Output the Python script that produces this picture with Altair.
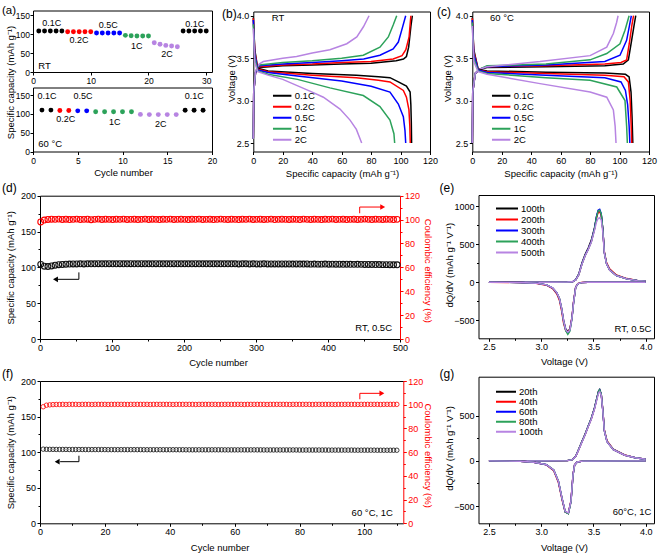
import altair as alt
import pandas as pd

W, H = 660, 556
FONT = "Liberation Sans"
PALETTE = ["#000000", "#ff0000", "#0000ff", "#2ca25a", "#b784e2"]
RATES = ["0.1C", "0.2C", "0.5C", "1C", "2C"]

# ---------------- (a) rate capability ----------------
rt_cycle = list(range(1, 31))
rt_capacity = [108, 108, 108, 108, 108, 106, 106, 106, 106, 106,
               102.7, 102.7, 102.7, 102.7, 102.7, 96.6, 95.5, 95.0, 95.0, 95.0,
               77, 73, 70, 68.5, 66.6, 108, 108, 108, 108, 108]
rt_rate = ["0.1C"] * 5 + ["0.2C"] * 5 + ["0.5C"] * 5 + ["1C"] * 5 + ["2C"] * 5 + ["0.1C"] * 5
rate_tag = ["0.1C", "0.2C", "0.5C", "1C", "2C", "0.1C"]
rt_tag_x = [3.24, 7.97, 13.04, 17.96, 23.21, 28.0]
rt_tag_y = [129.1, 85.1, 124.6, 69.8, 46.1, 127.0]

ht_cycle = list(range(1, 20))
ht_capacity = [110, 110, 109, 109, 108, 108, 105.5, 105.5, 105.5, 105.5, 105.5,
               98.5, 98, 98, 98, 98, 109.5, 109.5, 109.5]
ht_rate = ["0.1C"] * 2 + ["0.2C"] * 2 + ["0.5C"] * 2 + ["1C"] * 5 + ["2C"] * 5 + ["0.1C"] * 3
ht_tag_x = [1.56, 3.66, 5.59, 9.13, 14.28, 18.01]
ht_tag_y = [147.4, 86.9, 147.4, 79.2, 73.6, 146.6]

# ---------------- (b) charge/discharge profiles, RT ----------------
b_chg_x = {
    "0.1C": [0, 0.3, 1.5, 4, 20, 40, 60, 80, 97, 102, 104, 105.5, 107, 108],
    "0.2C": [0, 0.3, 1.5, 4, 20, 40, 60, 80, 95, 101, 103.6, 105.8, 107],
    "0.5C": [0, 0.3, 1.5, 4, 20, 40, 60, 75, 86, 95, 98.5, 100.8, 103.5],
    "1C": [0, 0.3, 1.5, 4, 20, 40, 60, 74.7, 86, 91.7, 95, 97.4],
    "2C": [0, 0.3, 1.5, 4, 6.8, 20, 29.4, 40, 52, 63.5, 70.3, 74.8, 78.6],
}
b_chg_v = {
    "0.1C": [2.55, 3.1, 3.33, 3.39, 3.41, 3.42, 3.43, 3.44, 3.47, 3.49, 3.52, 3.63, 3.87, 4.0],
    "0.2C": [2.55, 3.1, 3.33, 3.40, 3.42, 3.43, 3.45, 3.46, 3.49, 3.53, 3.6, 3.75, 4.0],
    "0.5C": [2.55, 3.1, 3.33, 3.41, 3.43, 3.45, 3.47, 3.49, 3.535, 3.61, 3.69, 3.83, 4.0],
    "1C": [2.55, 3.1, 3.34, 3.42, 3.45, 3.47, 3.5, 3.535, 3.63, 3.75, 3.89, 4.0],
    "2C": [2.55, 3.1, 3.35, 3.43, 3.46, 3.5, 3.52, 3.56, 3.6, 3.67, 3.75, 3.87, 4.0],
}
b_dis_x = {
    "0.1C": [0, 1, 3, 10, 40, 70, 85, 92.8, 98.5, 104, 106.5, 107.0, 107.3, 107.5],
    "0.2C": [0, 1, 3, 10, 40, 70, 85, 92.8, 101.9, 104, 105.7, 106.3, 106.6],
    "0.5C": [0, 1, 3, 10, 30, 60, 80, 92.8, 98.5, 101.9, 103, 103.5],
    "1C": [0, 1, 3, 10, 30, 52, 74.7, 86, 92.8, 95.5, 96],
    "2C": [0, 1, 3, 10, 20, 29.4, 40, 47.6, 58.9, 65.7, 70, 73.6],
}
b_dis_v = {
    "0.1C": [3.98, 3.6, 3.38, 3.35, 3.32, 3.30, 3.28, 3.27, 3.22, 3.17, 3.1, 2.95, 2.75, 2.5],
    "0.2C": [3.97, 3.58, 3.37, 3.34, 3.30, 3.27, 3.24, 3.22, 3.12, 3.04, 2.89, 2.7, 2.5],
    "0.5C": [3.95, 3.55, 3.36, 3.33, 3.29, 3.23, 3.17, 3.1, 2.96, 2.81, 2.65, 2.5],
    "1C": [3.9, 3.5, 3.35, 3.31, 3.25, 3.15, 3.06, 2.93, 2.77, 2.61, 2.5],
    "2C": [3.85, 3.45, 3.34, 3.3, 3.25, 3.18, 3.1, 3.04, 2.9, 2.77, 2.66, 2.5],
}

# ---------------- (c) charge/discharge profiles, 60 °C ----------------
c_chg_x = {
    "0.1C": [0, 0.3, 2, 5, 10, 50, 90, 102.5, 106, 108.2, 110, 111],
    "0.2C": [0, 0.3, 2, 5, 10, 50, 90, 101, 104.8, 106.6, 108.3, 109.5],
    "0.5C": [0, 0.3, 2, 5, 10, 50, 90, 100.3, 104.8, 106.7, 108],
    "1C": [0, 0.3, 2, 5, 10, 50, 80, 91.3, 100.3, 103.7, 106.5],
    "2C": [0, 0.3, 2, 5, 10, 46, 80, 91.3, 95.8, 98, 99],
}
c_chg_v = {
    "0.1C": [2.5, 3.1, 3.32, 3.37, 3.39, 3.40, 3.41, 3.43, 3.48, 3.71, 3.9, 4.0],
    "0.2C": [2.5, 3.1, 3.32, 3.37, 3.40, 3.41, 3.43, 3.45, 3.48, 3.67, 3.88, 4.0],
    "0.5C": [2.5, 3.1, 3.32, 3.37, 3.40, 3.42, 3.46, 3.535, 3.71, 3.88, 4.0],
    "1C": [2.5, 3.1, 3.32, 3.37, 3.41, 3.43, 3.48, 3.555, 3.67, 3.83, 4.0],
    "2C": [2.5, 3.1, 3.32, 3.37, 3.40, 3.46, 3.53, 3.63, 3.79, 3.92, 4.0],
}
c_dis_x = {
    "0.1C": [0, 1, 4, 10, 50, 90, 104, 106.5, 107.8, 108.5, 109],
    "0.2C": [0, 1, 4, 10, 50, 90, 103, 106, 107.2, 107.9, 108.3],
    "0.5C": [0, 1, 4, 10, 50, 90, 101, 104, 105.5, 106.5, 107],
    "1C": [0, 1, 4, 10, 50, 80, 98.1, 103.7, 104.8, 105.3],
    "2C": [0, 1, 4, 10, 46, 80, 91.3, 95.8, 97, 97.6],
}
c_dis_v = {
    "0.1C": [3.98, 3.6, 3.37, 3.35, 3.335, 3.325, 3.31, 3.28, 3.1, 2.8, 2.5],
    "0.2C": [3.97, 3.58, 3.36, 3.34, 3.32, 3.30, 3.28, 3.22, 3.0, 2.7, 2.5],
    "0.5C": [3.95, 3.55, 3.36, 3.33, 3.30, 3.27, 3.22, 3.12, 2.95, 2.7, 2.5],
    "1C": [3.92, 3.5, 3.35, 3.32, 3.27, 3.24, 3.16, 3.0, 2.7, 2.5],
    "2C": [3.88, 3.46, 3.34, 3.31, 3.2, 3.1, 3.04, 2.89, 2.7, 2.5],
}

# ---------------- (d) long cycling, RT 0.5C (every 5th cycle) ----------------
d_cycle = list(range(1, 501, 5))
d_capacity = [
    104.2, 101.6, 101.2, 102.0, 103.0, 103.7, 104.1, 104.4, 104.6, 104.7,
    104.8, 104.9, 104.8, 105.0, 104.9, 105.0, 105.1, 104.9, 105.0, 105.1,
    105.0, 104.9, 105.1, 105.0, 105.0, 105.1, 104.9, 105.0, 105.1, 105.0,
    104.9, 105.0, 105.1, 105.0, 104.9, 105.0, 105.0, 105.1, 104.9, 105.0,
    105.0, 104.9, 105.0, 105.1, 105.0, 104.9, 105.0, 105.0, 104.9, 105.0,
    104.9, 105.0, 104.9, 104.9, 105.0, 104.8, 104.9, 104.9, 104.8, 104.9,
    104.8, 104.8, 104.9, 104.7, 104.8, 104.8, 104.7, 104.8, 104.7, 104.7,
    104.6, 104.7, 104.6, 104.6, 104.7, 104.5, 104.6, 104.5, 104.5, 104.6,
    104.4, 104.5, 104.4, 104.4, 104.3, 104.4, 104.3, 104.2, 104.3, 104.2,
    104.1, 104.1, 104.0, 103.9, 103.9, 103.8, 103.8, 103.7, 103.6, 103.6]
d_efficiency = [
    98.0, 99.6, 100.1, 100.3, 100.2, 100.4, 100.1, 100.3, 100.0, 100.2,
    100.4, 100.1, 100.2, 100.3, 99.9, 100.2, 100.4, 100.1, 100.3, 100.2,
    100.0, 100.3, 100.2, 100.4, 100.1, 100.2, 100.3, 100.0, 100.2, 100.4,
    100.1, 100.3, 100.2, 100.0, 100.3, 100.2, 100.4, 100.1, 100.2, 100.3,
    100.2, 100.0, 100.3, 100.2, 100.4, 100.1, 100.2, 100.3, 100.0, 100.2,
    100.4, 100.2, 100.1, 100.3, 100.2, 100.0, 100.3, 100.2, 100.4, 100.1,
    100.2, 100.3, 100.1, 100.2, 100.4, 100.0, 100.2, 100.3, 100.2, 100.1,
    100.3, 100.2, 100.0, 100.4, 100.2, 100.1, 100.3, 100.2, 100.0, 100.3,
    100.2, 100.4, 100.1, 100.2, 100.3, 100.0, 100.2, 100.3, 100.1, 100.2,
    100.4, 100.2, 100.0, 100.3, 100.2, 100.1, 100.3, 100.2, 100.0, 100.2]

# ---------------- (f) long cycling, 60 °C 1C ----------------
f_cycle = list(range(1, 111))
f_capacity = [
    104.2, 104.0, 103.9, 103.9, 103.8, 103.8, 103.8, 103.8, 103.7, 103.7,
    103.7, 103.7, 103.7, 103.6, 103.6, 103.6, 103.6, 103.6, 103.6, 103.6,
    103.5, 103.5, 103.5, 103.5, 103.5, 103.5, 103.5, 103.5, 103.5, 103.5,
    103.5, 103.4, 103.4, 103.4, 103.4, 103.4, 103.4, 103.4, 103.4, 103.4,
    103.4, 103.4, 103.4, 103.4, 103.3, 103.3, 103.3, 103.3, 103.3, 103.3,
    103.3, 103.3, 103.3, 103.3, 103.3, 103.3, 103.2, 103.2, 103.2, 103.2,
    103.2, 103.2, 103.2, 103.2, 103.2, 103.2, 103.2, 103.2, 103.1, 103.1,
    103.1, 103.1, 103.1, 103.1, 103.1, 103.1, 103.1, 103.1, 103.1, 103.0,
    103.0, 103.0, 103.0, 103.0, 103.0, 103.0, 103.0, 103.0, 102.9, 102.9,
    102.9, 102.9, 102.9, 102.9, 102.9, 102.9, 102.8, 102.8, 102.8, 102.8,
    102.8, 102.8, 102.8, 102.7, 102.7, 102.7, 102.7, 102.7, 102.7, 102.7]
f_efficiency = [
    98.3, 99.6, 99.9, 100.1, 100.2, 100.2, 100.3, 100.2, 100.3, 100.3,
    100.3, 100.2, 100.3, 100.3, 100.3, 100.2, 100.3, 100.3, 100.3, 100.3,
    100.2, 100.3, 100.3, 100.3, 100.3, 100.3, 100.2, 100.3, 100.3, 100.3,
    100.3, 100.3, 100.3, 100.2, 100.3, 100.3, 100.3, 100.3, 100.3, 100.3,
    100.2, 100.3, 100.3, 100.3, 100.3, 100.3, 100.3, 100.2, 100.3, 100.3,
    100.3, 100.3, 100.3, 100.3, 100.2, 100.3, 100.3, 100.3, 100.3, 100.3,
    100.3, 100.3, 100.2, 100.3, 100.3, 100.3, 100.3, 100.3, 100.3, 100.2,
    100.3, 100.3, 100.3, 100.3, 100.3, 100.3, 100.2, 100.3, 100.3, 100.3,
    100.3, 100.3, 100.3, 100.2, 100.3, 100.3, 100.3, 100.3, 100.3, 100.3,
    100.2, 100.3, 100.3, 100.3, 100.3, 100.3, 100.3, 100.2, 100.3, 100.3,
    100.3, 100.3, 100.3, 100.3, 100.2, 100.3, 100.3, 100.3, 100.3, 100.3]

# ---------------- (e) dQ/dV, RT 0.5C ----------------
E_CYCLES = ["100th", "200th", "300th", "400th", "500th"]
e_chg_v = [2.5, 3.0, 3.25, 3.3, 3.33, 3.36, 3.39, 3.42, 3.45, 3.48, 3.51, 3.53,
           3.545, 3.56, 3.575, 3.59, 3.605, 3.625, 3.655, 3.72, 3.82, 3.92, 4.0]
e_chg = {
    "100th": [0, 0, 2, 6, 32, 110, 255, 365, 450, 555, 715, 865, 935, 945, 890, 690, 385, 245, 160, 86, 43, 21, 12],
    "200th": [0, 0, 2, 5, 28, 100, 240, 350, 435, 535, 700, 850, 920, 930, 885, 700, 400, 262, 178, 95, 48, 24, 14],
    "300th": [0, 0, 2, 5, 30, 102, 242, 352, 438, 538, 705, 870, 950, 962, 905, 700, 390, 250, 163, 88, 44, 22, 13],
    "400th": [0, 0, 2, 5, 29, 100, 238, 348, 432, 530, 698, 860, 940, 950, 900, 705, 392, 250, 164, 88, 44, 22, 13],
    "500th": [0, 0, 2, 5, 28, 98, 235, 345, 430, 528, 680, 795, 840, 850, 820, 660, 380, 245, 160, 86, 43, 21, 12],
}
e_dis_v = [2.5, 2.8, 2.95, 3.05, 3.11, 3.15, 3.175, 3.195, 3.215, 3.235, 3.255,
           3.275, 3.295, 3.31, 3.33, 3.35, 3.385, 3.45, 4.0]
e_dis = {
    "100th": [0, -4, -13, -35, -76, -140, -215, -340, -505, -615, -650, -615, -465, -265, -70, -20, -5, 0, 0],
    "200th": [0, -5, -15, -40, -85, -155, -240, -375, -545, -640, -665, -620, -460, -255, -65, -18, -4, 0, 0],
    "300th": [0, -4, -13, -36, -77, -142, -220, -348, -518, -632, -672, -635, -472, -268, -70, -20, -5, 0, 0],
    "400th": [0, -4, -13, -35, -76, -140, -218, -346, -520, -640, -688, -648, -480, -272, -72, -20, -5, 0, 0],
    "500th": [0, -4, -13, -35, -75, -138, -215, -340, -510, -625, -660, -630, -472, -270, -72, -20, -5, 0, 0],
}

# ---------------- (g) dQ/dV, 60 °C 1C ----------------
G_CYCLES = ["20th", "40th", "60th", "80th", "100th"]
g_chg_v = [2.5, 3.0, 3.25, 3.3, 3.33, 3.36, 3.39, 3.42, 3.45, 3.48, 3.51, 3.535,
           3.55, 3.56, 3.575, 3.59, 3.605, 3.63, 3.69, 3.8, 3.9, 4.0]
g_chg = {
    "20th": [0, 0, 3, 15, 50, 130, 215, 295, 385, 472, 585, 705, 775, 790, 735, 555, 330, 212, 124, 62, 35, 18],
    "40th": [0, 0, 3, 14, 48, 126, 210, 290, 380, 465, 578, 698, 768, 782, 738, 565, 342, 222, 130, 65, 36, 19],
    "60th": [0, 0, 3, 15, 49, 128, 212, 292, 382, 468, 582, 702, 772, 786, 736, 558, 334, 215, 126, 63, 35, 18],
    "80th": [0, 0, 3, 15, 49, 128, 212, 292, 382, 468, 580, 700, 770, 784, 740, 562, 336, 216, 126, 63, 35, 18],
    "100th": [0, 0, 3, 14, 47, 124, 206, 286, 376, 460, 570, 685, 750, 765, 725, 552, 330, 212, 124, 62, 35, 18],
}
g_dis_v = [2.5, 2.8, 2.93, 3.05, 3.12, 3.165, 3.2, 3.23, 3.26, 3.285, 3.305, 3.32, 3.345, 3.4, 4.0]
g_dis = {
    "20th": [0, -5, -15, -42, -100, -225, -415, -560, -582, -450, -155, -45, -12, -3, 0],
    "40th": [0, -5, -16, -45, -108, -240, -432, -568, -575, -440, -150, -44, -12, -3, 0],
    "60th": [0, -5, -15, -43, -102, -228, -420, -565, -580, -448, -154, -45, -12, -3, 0],
    "80th": [0, -5, -15, -42, -100, -225, -418, -566, -585, -455, -158, -46, -12, -3, 0],
    "100th": [0, -5, -15, -42, -100, -224, -414, -558, -576, -448, -155, -45, -12, -3, 0],
}

CAP_TITLE = "Specific capacity (mAh g⁻¹)"
CE_TITLE = "Coulombic efficiency (%)"
DQDV_TITLE = "dQ/dV (mAh g⁻¹ V⁻¹)"


# ---------------- helpers ----------------
def scale(domain, rng):
    return alt.Scale(domain=domain, range=rng, nice=False, zero=False)


def axis(orient, offset, **kw):
    opts = dict(orient=orient, offset=offset, grid=False, labelFlush=False, labelOverlap=False)
    opts.update(kw)
    return alt.Axis(**opts)


def frame(orient, offset):
    return alt.Axis(orient=orient, offset=offset, labels=False, ticks=False, grid=False, title=None)


def minor(orient, offset, values, color="black"):
    return alt.Axis(orient=orient, offset=offset, values=values, labels=False, domain=False, grid=False,
                    title=None, tickSize=2, tickColor=color)


def curve_frame(names, xs, ys, branch):
    rows = []
    for name in names:
        for i, (x, y) in enumerate(zip(xs[name], ys[name])):
            rows.append({"series": name, "branch": branch, "i": i, "x": x, "y": y})
    return rows


def text_layer(xs, ys, texts, xsc, ysc, size=9.5, align="left", color="black", xaxis=None, yaxis=None):
    df = pd.DataFrame({"x": xs, "y": ys, "t": texts})
    return alt.Chart(df).mark_text(fontSize=size, align=align, baseline="middle", color=color).encode(
        x=alt.X("x:Q", scale=xsc, axis=xaxis),
        y=alt.Y("y:Q", scale=ysc, axis=yaxis),
        text="t:N",
    )


def arrow_layers(segments, head, shape, xsc, ysc, color, head_yaxis=None):
    seg = pd.DataFrame(segments, columns=["x", "y", "x2", "y2"])
    rule = alt.Chart(seg).mark_rule(color=color, strokeWidth=1).encode(
        x=alt.X("x:Q", scale=xsc, axis=None), x2="x2:Q",
        y=alt.Y("y:Q", scale=ysc, axis=None), y2="y2:Q")
    tip = alt.Chart(pd.DataFrame({"x": [head[0]], "y": [head[1]]})).mark_point(
        shape=shape, filled=True, size=32, color=color, opacity=1).encode(
        x=alt.X("x:Q", scale=xsc, axis=None), y=alt.Y("y:Q", scale=ysc, axis=head_yaxis))
    return [rule, tip]


def panel(*layers):
    return alt.layer(*layers).resolve_axis(x="independent", y="independent")


# ---------------- (a) upper: RT ----------------
a1x, a1y = scale([0, 31], [33, 212]), scale([0, 162], [72, 10.5])
rate_color = alt.Color("rate:N", scale=alt.Scale(domain=RATES, range=PALETTE), legend=None)
a1_pts = alt.Chart(pd.DataFrame({"cycle": rt_cycle, "cap": rt_capacity, "rate": rt_rate})).mark_circle(
    size=24, opacity=1).encode(
    x=alt.X("cycle:Q", scale=a1x, axis=axis("bottom", 72 - H, values=[0, 10, 20, 30], title=None,
                                             labelFontSize=8.5)),
    y=alt.Y("cap:Q", scale=a1y, axis=axis("left", -33, values=[0, 50, 100, 150], title=CAP_TITLE,
                                           labelFontSize=8.5, labelPadding=0.5,
                                           titleX=-23, titleY=82, titleBaseline="middle")),
    color=rate_color)
a1_tags = text_layer(rt_tag_x, rt_tag_y, rate_tag, a1x, a1y, size=9, align="center",
                     xaxis=frame("top", -10.5), yaxis=frame("right", 212 - W))
a1_note = text_layer([0.92], [16.6], ["RT"], a1x, a1y)
a1_letter = text_layer([-5.37], [161.5], ["(a)"], a1x, a1y, size=11.5)
panel_a1 = panel(a1_pts, a1_tags, a1_note, a1_letter)

# ---------------- (a) lower: 60 °C ----------------
a2x, a2y = scale([0, 20], [33, 212]), scale([0, 170], [151.5, 87.5])
a2_pts = alt.Chart(pd.DataFrame({"cycle": ht_cycle, "cap": ht_capacity, "rate": ht_rate})).mark_circle(
    size=24, opacity=1).encode(
    x=alt.X("cycle:Q", scale=a2x, axis=axis("bottom", 151.5 - H, values=[0, 5, 10, 15, 20],
                                             labelFontSize=8.5,
                                             title="Cycle number", titleX=123, titleY=21, titleBaseline="middle")),
    y=alt.Y("cap:Q", scale=a2y, axis=axis("left", -33, values=[0, 50, 100, 150], title=None,
                                           labelFontSize=8.5, labelPadding=0.5)),
    color=rate_color)
a2_tags = text_layer(ht_tag_x, ht_tag_y, rate_tag, a2x, a2y, size=9, align="center",
                     xaxis=frame("top", -87.5), yaxis=frame("right", 212 - W))
a2_note = text_layer([0.59], [19.1], ["60 °C"], a2x, a2y)
panel_a2 = panel(a2_pts, a2_tags, a2_note)


# ---------------- (b), (c) voltage profiles ----------------
def profile_panel(chg_x, chg_v, dis_x, dis_v, left, right, y_title_x, x_title_x, legend_x, note, note_x,
                  letter, letter_x, letter_v):
    xs, ys = scale([0, 120], [left, right]), scale([2.4, 4.05], [151.5, 11.5])
    rows = curve_frame(RATES, chg_x, chg_v, "charge") + curve_frame(RATES, dis_x, dis_v, "discharge")
    lines = alt.Chart(pd.DataFrame(rows)).mark_line(strokeWidth=1.5).encode(
        x=alt.X("x:Q", scale=xs, axis=axis("bottom", 151.5 - H, values=[0, 20, 40, 60, 80, 100, 120],
                                           title=CAP_TITLE, titleX=x_title_x, titleY=21.5,
                                           titleBaseline="middle")),
        y=alt.Y("y:Q", scale=ys, axis=axis("left", -left, values=[2.5, 3.0, 3.5, 4.0], format=".1f",
                                           title="Voltage (V)", titleX=y_title_x - left, titleY=78,
                                           titleBaseline="middle")),
        color=alt.Color("series:N", scale=alt.Scale(domain=RATES, range=PALETTE),
                        legend=alt.Legend(orient="none", legendX=legend_x, legendY=90.6, title=None,
                                          symbolType="stroke", symbolSize=340, symbolStrokeWidth=2,
                                          clipHeight=10.15, rowPadding=0, padding=0, labelOffset=2,
                                          labelFontSize=9.5)),
        detail="branch:N",
        order="i:Q")
    txt = text_layer([note_x], [3.97], [note], xs, ys,
                     xaxis=frame("top", -11.5), yaxis=frame("right", right - W))
    let = text_layer([letter_x], [letter_v], [letter], xs, ys, size=12)
    return panel(lines, txt, let)


panel_b = profile_panel(b_chg_x, b_chg_v, b_dis_x, b_dis_v, 253.3, 430, 231, 342, 271.7, "RT", 12.5,
                        "(b)", -21.26, 4.026)
panel_c = profile_panel(c_chg_x, c_chg_v, c_dis_x, c_dis_v, 472.3, 649, 447, 560.5, 490.7, "60 °C", 12.0,
                        "(c)", -23.97, 4.044)


# ---------------- (d), (f) cycling stability ----------------
def cycling_panel(cycles, cap, ce, xdom, xright, ticks, minor_x, top, bottom, x_title_y, note, note_x,
                  note_y, letter, letter_x, letter_y, black_arrow, red_arrow, msize, mstroke):
    xs = scale(xdom, [40, xright])
    ys = scale([0, 200], [bottom, top])
    ys2 = scale([0, 120], [bottom, top])
    df = pd.DataFrame({"cycle": cycles, "cap": cap, "ce": ce})
    cap_pts = alt.Chart(df).mark_point(shape="circle", filled=False, size=msize, strokeWidth=mstroke,
                                       color="#111111", opacity=1).encode(
        x=alt.X("cycle:Q", scale=xs, axis=axis("bottom", bottom - H, values=ticks, title="Cycle number",
                                               titleX=(40 + xright) / 2 - 2, titleY=x_title_y,
                                               titleBaseline="middle")),
        y=alt.Y("cap:Q", scale=ys, axis=axis("left", -40, values=[0, 50, 100, 150, 200], title=CAP_TITLE,
                                             titleX=-30, titleY=(top + bottom) / 2, titleBaseline="middle")))
    ce_pts = alt.Chart(df).mark_point(shape="circle", filled=False, size=msize, strokeWidth=mstroke,
                                      color="#ff0000", opacity=1).encode(
        x=alt.X("cycle:Q", scale=xs, axis=frame("top", -top)),
        y=alt.Y("ce:Q", scale=ys2, axis=axis("right", xright - W, values=[0, 20, 40, 60, 80, 100, 120],
                                             title=CE_TITLE, titleX=427.5 - xright,
                                             titleY=(top + bottom) / 2 + 3, titleBaseline="middle",
                                             domainColor="#ff0000", tickColor="#ff0000",
                                             labelColor="#ff0000", titleColor="#ff0000")))
    left = alt.layer(cap_pts,
                     *arrow_layers(black_arrow[0], black_arrow[1], "triangle-left", xs, ys, "black"),
                     text_layer([note_x], [note_y], [note], xs, ys, align="right"),
                     text_layer([letter_x], [letter_y], [letter], xs, ys, size=12,
                                xaxis=minor("bottom", bottom - H, minor_x),
                                yaxis=minor("left", -40, [25, 75, 125, 175]))
                     ).resolve_axis(x="independent", y="independent")
    right = alt.layer(ce_pts,
                      *arrow_layers(red_arrow[0], red_arrow[1], "triangle-right", xs, ys2, "#ff0000",
                                    head_yaxis=minor("right", xright - W, [10, 30, 50, 70, 90, 110],
                                                     color="#ff0000"))
                      ).resolve_axis(x="independent", y="independent")
    return alt.layer(left, right).resolve_scale(y="independent").resolve_axis(x="independent", y="independent")


panel_d = cycling_panel(
    d_cycle, d_capacity, d_efficiency, [0, 500], 400, [0, 100, 200, 300, 400, 500], [50, 150, 250, 350, 450],
    195.7, 339, 23, "RT, 0.5C", 488.9, 15.35, "(d)", -52.8, 210.7,
    ([(24, 83.3, 54, 83.3), (54, 83.3, 54, 93)], (21.5, 83.3)),
    ([(444, 105.3, 444, 110.5), (444, 110.5, 474, 110.5)], (476, 110.5)),
    34, 1.1)
panel_f = cycling_panel(
    f_cycle, f_capacity, f_efficiency, [0, 112], 403.3, [0, 20, 40, 60, 80, 100], [10, 30, 50, 70, 90, 110],
    381, 523.3, 24.5, "60 °C, 1C", 108.8, 14.05, "(f)", -11.71, 209.8,
    ([(6.2, 86.6, 12.0, 86.6), (12.0, 86.6, 12.0, 95)], (5.3, 86.6)),
    ([(98.6, 104.6, 98.6, 109.6), (98.6, 109.6, 104.8, 109.6)], (105.4, 109.6)),
    20, 0.8)


# ---------------- (e), (g) differential capacity ----------------
def dqdv_panel(names, chg_v, chg, dis_v, dis, ydom, top, bottom, yticks, minor_y, x_title_y, legend_y, clip_h,
               legend_len, note, note_y, letter, letter_y):
    xs = scale([2.4, 4.08], [478.5, 654])
    ys = scale(ydom, [bottom, top])
    rows = (curve_frame(names, {n: chg_v for n in names}, chg, "charge")
            + curve_frame(names, {n: dis_v for n in names}, dis, "discharge"))
    lines = alt.Chart(pd.DataFrame(rows)).mark_line(strokeWidth=1.4).encode(
        x=alt.X("x:Q", scale=xs, axis=axis("bottom", bottom - H, values=[2.5, 3.0, 3.5, 4.0], format=".1f",
                                           title="Voltage (V)", titleX=564, titleY=x_title_y,
                                           titleBaseline="middle")),
        y=alt.Y("y:Q", scale=ys, axis=axis("left", -478.5, values=yticks, format="d", title=DQDV_TITLE,
                                           titleX=-29.5, titleY=(top + bottom) / 2 - 2,
                                           titleBaseline="middle")),
        color=alt.Color("series:N", scale=alt.Scale(domain=names, range=PALETTE),
                        legend=alt.Legend(orient="none", legendX=495, legendY=legend_y, title=None,
                                          symbolType="stroke", symbolSize=legend_len ** 2,
                                          symbolStrokeWidth=2, clipHeight=clip_h, rowPadding=0, padding=0,
                                          labelOffset=2, labelFontSize=9.5)),
        detail="branch:N",
        order="i:Q")
    txt = text_layer([4.055], [note_y], [note], xs, ys, align="right",
                     xaxis=frame("top", -top), yaxis=frame("right", 654 - W))
    let = text_layer([2.027], [letter_y], [letter], xs, ys, size=12,
                     xaxis=minor("bottom", bottom - H, [2.75, 3.25, 3.75]),
                     yaxis=minor("left", -478.5, minor_y))
    return panel(lines, txt, let)


panel_e = dqdv_panel(E_CYCLES, e_chg_v, e_chg, e_dis_v, e_dis, [-740, 1150], 195, 338.3,
                     [-500, 0, 500, 1000], [-250, 250, 750], 23, 203.8, 9.5, 22, "RT, 0.5C", -617, "(e)", 1236)
panel_g = dqdv_panel(G_CYCLES, g_chg_v, g_chg, g_dis_v, g_dis, [-690, 930], 376.7, 523.3,
                     [-500, 0, 500], [-250, 250], 24.5, 387.5, 8.3, 20, "60°C, 1C", -562, "(g)", 960)

chart = alt.layer(
    panel_a1, panel_a2, panel_b, panel_c, panel_d, panel_e, panel_f, panel_g
).resolve_scale(
    x="independent", y="independent", color="independent"
).properties(
    width=W, height=H, autosize="none", padding=0
).configure_view(
    stroke=None
).configure_axis(
    labelFont=FONT, titleFont=FONT, labelFontSize=9, titleFontSize=9.5, titleFontWeight="normal",
    tickSize=3, tickColor="black", domainColor="black", labelColor="black", titleColor="black",
    tickWidth=1, domainWidth=1, labelPadding=1.5
).configure_legend(
    labelFont=FONT, labelColor="black"
).configure_text(
    font=FONT
)

chart.save("out.html", embed_options={"renderer": "svg", "actions": False})
